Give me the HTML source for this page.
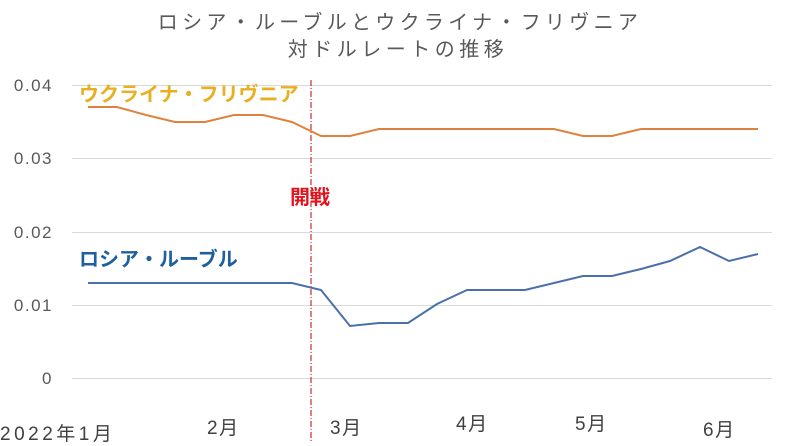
<!DOCTYPE html><html><head><meta charset="utf-8"><style>body{margin:0;background:#fff}svg{display:block}text{font-family:"Liberation Sans","Noto Sans CJK JP",sans-serif}</style></head><body>
<svg width="785" height="446" viewBox="0 0 785 446">
<text x="400" y="29" font-size="20" letter-spacing="4.3" fill="#595959" text-anchor="middle">ロシア・ルーブルとウクライナ・フリヴニア</text>
<text x="398" y="56" font-size="20" letter-spacing="4.5" fill="#595959" text-anchor="middle">対ドルレートの推移</text>
<g stroke="#d9d9d9" stroke-width="1">
<line x1="72" y1="85.5" x2="772" y2="85.5"/><line x1="72" y1="158.5" x2="772" y2="158.5"/><line x1="72" y1="232.5" x2="772" y2="232.5"/><line x1="72" y1="305.5" x2="772" y2="305.5"/><line x1="72" y1="378.5" x2="772" y2="378.5"/></g>
<g font-size="17" fill="#595959" text-anchor="end" letter-spacing="1.5">
<text x="53" y="91">0.04</text><text x="53" y="164">0.03</text><text x="53" y="238">0.02</text><text x="53" y="311">0.01</text><text x="53" y="384">0</text></g>
<g font-size="19" fill="#404040" letter-spacing="1.5">
<text x="0" y="440" letter-spacing="3.5">2022年1月</text><text x="207" y="434">2月</text><text x="330" y="434">3月</text><text x="456" y="430">4月</text><text x="575" y="430">5月</text><text x="703" y="436">6月</text></g>
<line x1="311" y1="80" x2="311" y2="442" stroke="#c00000" stroke-width="1" stroke-dasharray="6,2,1,2"/>
<polyline fill="none" stroke="#e0823e" stroke-width="2" points="88,107 117,107 146,115 175,122 205,122 234,115 263,115 292,122 321,136 350,136 379,129 408,129 437,129 467,129 496,129 525,129 554,129 583,136 612,136 641,129 670,129 700,129 729,129 758,129"/>
<polyline fill="none" stroke="#4a70ac" stroke-width="2" points="88,283 117,283 146,283 175,283 205,283 234,283 263,283 292,283 321,290 350,326 379,323 408,323 437,304 467,290 496,290 525,290 554,283 583,276 612,276 641,269 670,261 700,247 729,261 758,254"/>
<text x="79" y="101" font-size="20" font-weight="bold" fill="#e8b020">ウクライナ・フリヴニア</text>
<text x="290" y="204" font-size="20" font-weight="bold" fill="#e0141e">開戦</text>
<text x="79" y="266" font-size="20" font-weight="bold" fill="#1f5f9f">ロシア・ルーブル</text>
</svg></body></html>
